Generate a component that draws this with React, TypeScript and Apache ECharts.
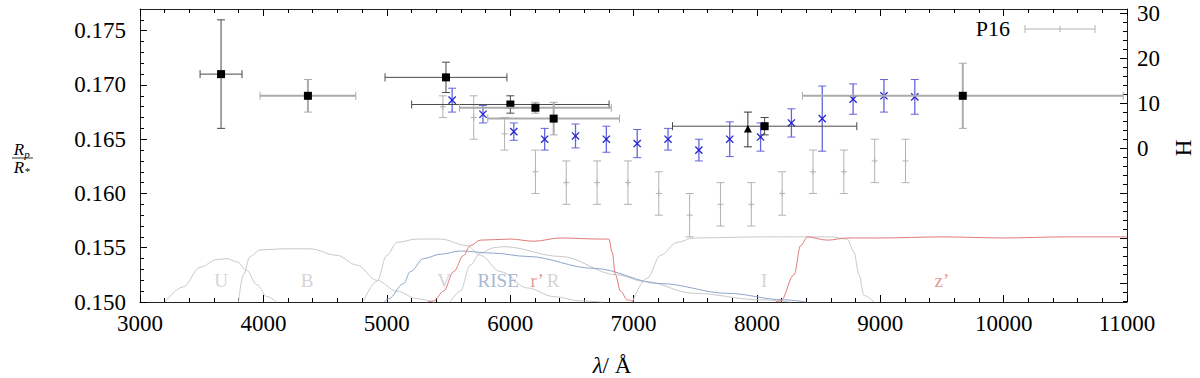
import React, { useEffect, useRef } from "react";
import * as echarts from "echarts";

const SERIF = "Liberation Serif";

// ---------- axis ticks ----------
const xMin = 3000;
const xMax = 11000;
const rpMin = 0.15;
const rpMax = 0.177;
const hMin = -34.2;
const hMax = 30.9;
const rpMajorTicks = [0.15, 0.155, 0.16, 0.165, 0.17, 0.175];
const rpMinorTicks = [
  0.151, 0.152, 0.153, 0.154, 0.156, 0.157, 0.158, 0.159, 0.161, 0.162, 0.163, 0.164,
  0.166, 0.167, 0.168, 0.169, 0.171, 0.172, 0.173, 0.174, 0.176,
];
const hMajorTicks = [-30, -20, -10, 0, 10, 20, 30];
const hLabelValues = [0, 10, 20, 30];
const hMinorTicks = [
  -34, -32, -28, -26, -24, -22, -18, -16, -14, -12, -8, -6, -4, -2, 2, 4, 6, 8, 12, 14, 16,
  18, 22, 24, 26, 28,
];

// ---------- black squares (broadband) ----------
const sqWave = [3657, 4361, 5480, 6002, 6205, 6353, 8063, 9669];
const sqRp = [0.171, 0.169, 0.1707, 0.1682, 0.1679, 0.1669, 0.1662, 0.169];
const sqWaveErr = [170, 388, 494, 800, 615, 534, 747, 1300];
const sqRpErr = [0.005, 0.0015, 0.0014, 0.0008, 0.0005, 0.0015, 0.0008, 0.003];
const sqTone = [0, 1, 0, 0, 1, 1, 0, 1];

// ---------- triangle ----------
const triWave = [7927];
const triRp = [0.1659];
const triRpErr = [0.0016];

// ---------- blue crosses ----------
const blueWave = [5530, 5780, 6030, 6280, 6530, 6780, 7030, 7280, 7530, 7780, 8030, 8280, 8530, 8780, 9030, 9280];
const blueRp = [0.1686, 0.1673, 0.1657, 0.165, 0.1653, 0.165, 0.1646, 0.165, 0.164, 0.165, 0.1652, 0.1665, 0.1669, 0.1687, 0.169, 0.1689];
const blueRpErr = [0.0011, 0.0008, 0.0008, 0.001, 0.0011, 0.0012, 0.0013, 0.001, 0.001, 0.0016, 0.0013, 0.0013, 0.003, 0.0014, 0.0015, 0.0016];

// ---------- P16 (grey) ----------
const p16Wave = [5455, 5705, 5955, 6205, 6455, 6705, 6955, 7205, 7455, 7705, 7955, 8205, 8455, 8705, 8955, 9205];
const p16Rp = [0.168, 0.167, 0.1655, 0.162, 0.161, 0.161, 0.161, 0.16, 0.158, 0.159, 0.159, 0.16, 0.162, 0.162, 0.163, 0.163];
const p16RpErr = [0.001, 0.002, 0.0015, 0.002, 0.002, 0.002, 0.002, 0.002, 0.002, 0.002, 0.002, 0.002, 0.002, 0.002, 0.002, 0.002];

// ---------- filter curves [wavelength, scaled response] ----------
const filterU = [[3203, 0.15], [3351, 0.1514], [3487, 0.1532], [3622, 0.1539], [3703, 0.154], [3785, 0.1537], [3866, 0.1529], [3947, 0.1516], [4028, 0.1505], [4109, 0.15]];
const filterB = [[3798, 0.15], [3838, 0.1525], [3892, 0.1542], [3974, 0.1548], [4163, 0.1549], [4379, 0.1549], [4596, 0.1543], [4758, 0.1534], [4920, 0.152], [5083, 0.151], [5245, 0.1503], [5380, 0.15]];
const filterV = [[4812, 0.1501], [4920, 0.1519], [5001, 0.1543], [5083, 0.1555], [5245, 0.1558], [5434, 0.1558], [5651, 0.1552], [5759, 0.1543], [5921, 0.1528], [6138, 0.1513], [6353, 0.1505], [6570, 0.1501], [6750, 0.15]];
const filterR = [[5515, 0.15], [5596, 0.151], [5677, 0.1534], [5759, 0.1545], [5867, 0.155], [5948, 0.1551], [6408, 0.1542], [6868, 0.1525], [7084, 0.1519], [7489, 0.1508], [8031, 0.1502], [8274, 0.15]];
const filterRISE = [[4980, 0.15], [5015, 0.1503], [5137, 0.1517], [5191, 0.1528], [5299, 0.154], [5434, 0.1544], [5600, 0.1547], [5867, 0.1545], [6138, 0.1542], [6678, 0.1531], [7219, 0.1517], [7760, 0.1508], [8220, 0.1502], [8400, 0.15]];
const filterRprime = [[5330, 0.15], [5380, 0.1501], [5461, 0.151], [5542, 0.1528], [5623, 0.1543], [5677, 0.1552], [5759, 0.1557], [6002, 0.1558], [6191, 0.1556], [6408, 0.1559], [6732, 0.1558], [6800, 0.1558], [6827, 0.1546], [6854, 0.1525], [6895, 0.151], [6949, 0.1502], [7003, 0.15]];
const filterI = [[6990, 0.15], [7111, 0.1522], [7219, 0.1543], [7354, 0.1555], [7489, 0.1559], [8031, 0.156], [8600, 0.156], [8733, 0.1558], [8787, 0.1546], [8828, 0.1525], [8868, 0.1506], [8950, 0.15]];
const filterZprime = [[8150, 0.15], [8193, 0.1501], [8301, 0.1525], [8355, 0.1552], [8409, 0.156], [8571, 0.1557], [8733, 0.1559], [9004, 0.1559], [9500, 0.156], [10000, 0.1559], [10500, 0.156], [11000, 0.156]];

const filterNames = ["U", "B", "V", "RISE", "r\u2019", "R", "I", "z\u2019"];
const filterLabelWave = [3657, 4354, 5465, 5903, 6219, 6349, 8060, 9500];
const filterLabelRp = [0.152, 0.152, 0.152, 0.152, 0.152, 0.152, 0.152, 0.152];

const GREY_F = "#c9c9c9";
const BLUE_F = "#8ea6c9";
const RED_F = "#e07a7a";
const filterLabelColors = [GREY_F, GREY_F, GREY_F, BLUE_F, RED_F, GREY_F, GREY_F, RED_F];

function ln(x1: number, y1: number, x2: number, y2: number, color: string, w: number) {
  return { type: "line", shape: { x1, y1, x2, y2 }, style: { stroke: color, lineWidth: w } };
}

function makeRender(kind: string) {
  return (params: any, api: any) => {
    const x = api.value(0);
    const y = api.value(1);
    const xe = api.value(2);
    const ye = api.value(3);
    const tone = api.value(4);
    const c = api.coord([x, y]);
    let barColor = "#444";
    let barW = 1;
    const cap = 4;
    if (kind === "square") {
      barColor = tone === 1 ? "#ababab" : "#4a4a4a";
      barW = tone === 1 ? 2 : 1;
    } else if (kind === "triangle") {
      barColor = "#333";
    } else if (kind === "blue") {
      barColor = "#6464dc";
      barW = 1.3;
    } else if (kind === "p16") {
      barColor = "#b3b3b3";
      barW = 1;
    }
    const kids: any[] = [];
    if (ye > 0) {
      const t = api.coord([x, y + ye])[1];
      const b = api.coord([x, y - ye])[1];
      kids.push(ln(c[0], t, c[0], b, barColor, barW));
      kids.push(ln(c[0] - cap, t, c[0] + cap, t, barColor, 1));
      kids.push(ln(c[0] - cap, b, c[0] + cap, b, barColor, 1));
    }
    if (xe > 0) {
      const l = api.coord([x - xe, y])[0];
      const r = api.coord([x + xe, y])[0];
      kids.push(ln(l, c[1], r, c[1], barColor, barW));
      kids.push(ln(l, c[1] - cap, l, c[1] + cap, barColor, 1));
      kids.push(ln(r, c[1] - cap, r, c[1] + cap, barColor, 1));
    }
    if (kind === "square") {
      kids.push({ type: "rect", shape: { x: c[0] - 4, y: c[1] - 4, width: 8, height: 8 }, style: { fill: "#000" } });
    } else if (kind === "triangle") {
      kids.push({ type: "polygon", shape: { points: [[c[0], c[1] - 4.5], [c[0] - 4, c[1] + 3], [c[0] + 4, c[1] + 3]] }, style: { fill: "#000" } });
    } else if (kind === "blue") {
      const s = 3.6;
      kids.push(ln(c[0] - s, c[1] - s, c[0] + s, c[1] + s, "#2424cf", 1.3));
      kids.push(ln(c[0] - s, c[1] + s, c[0] + s, c[1] - s, "#2424cf", 1.3));
    } else if (kind === "p16") {
      const s = 3;
      kids.push(ln(c[0] - s, c[1], c[0] + s, c[1], "#b3b3b3", 1));
      kids.push(ln(c[0], c[1] - s, c[0], c[1] + s, "#b3b3b3", 1));
    }
    return { type: "group", children: kids };
  };
}

function buildOption() {
  const sqData = sqWave.map((w, i) => [w, sqRp[i], sqWaveErr[i], sqRpErr[i], sqTone[i]]);
  const triData = triWave.map((w, i) => [w, triRp[i], 0, triRpErr[i], 0]);
  const blueData = blueWave.map((w, i) => [w, blueRp[i], 0, blueRpErr[i], 0]);
  const p16Data = p16Wave.map((w, i) => [w, p16Rp[i], 0, p16RpErr[i], 0]);

  const filterLine = (name: string, data: number[][], color: string) => ({
    name,
    type: "line",
    data,
    showSymbol: false,
    smooth: 0.35,
    smoothMonotone: "x",
    lineStyle: { color, width: 1 },
    itemStyle: { color },
    z: 1,
    silent: true,
  });

  const tickStyle = { color: "#000", width: 1 };
  const axisLineStyle = { color: "#222", width: 1 };

  return {
    animation: false,
    backgroundColor: "#fff",
    textStyle: { fontFamily: SERIF },
    grid: { left: 140, right: 73, top: 9, bottom: 76, containLabel: false },
    xAxis: [
      {
        type: "value",
        min: xMin,
        max: xMax,
        interval: 1000,
        position: "bottom",
        axisLine: { show: true, onZero: false, lineStyle: axisLineStyle },
        axisTick: { show: true, inside: true, length: 7, lineStyle: tickStyle },
        minorTick: { show: true, splitNumber: 5, length: 4, lineStyle: tickStyle },
        axisLabel: { show: true, formatter: (v: number) => String(v), fontFamily: SERIF, fontSize: 23, color: "#000", margin: 10 },
        splitLine: { show: false },
      },
      {
        type: "value",
        min: xMin,
        max: xMax,
        interval: 1000,
        position: "top",
        axisLine: { show: true, onZero: false, lineStyle: axisLineStyle },
        axisTick: { show: true, inside: true, length: 7, lineStyle: tickStyle },
        minorTick: { show: true, splitNumber: 5, length: 4, lineStyle: tickStyle },
        axisLabel: { show: false },
        splitLine: { show: false },
      },
    ],
    yAxis: [
      {
        type: "value",
        min: rpMin,
        max: rpMax,
        position: "left",
        axisLine: { show: true, onZero: false, lineStyle: axisLineStyle },
        axisTick: { show: true, inside: true, length: 7, lineStyle: tickStyle, customValues: rpMajorTicks },
        axisLabel: {
          show: true,
          customValues: rpMajorTicks,
          formatter: (v: number) => v.toFixed(3),
          fontFamily: SERIF,
          fontSize: 23,
          color: "#000",
          margin: 14,
        },
        splitLine: { show: false },
      },
      {
        type: "value",
        min: rpMin,
        max: rpMax,
        position: "left",
        axisLine: { show: false },
        axisTick: { show: true, inside: true, length: 4, lineStyle: tickStyle, customValues: rpMinorTicks },
        axisLabel: { show: false },
        splitLine: { show: false },
      },
      {
        type: "value",
        min: hMin,
        max: hMax,
        position: "right",
        axisLine: { show: true, onZero: false, lineStyle: axisLineStyle },
        axisTick: { show: true, inside: true, length: 7, lineStyle: tickStyle, customValues: hMajorTicks },
        axisLabel: {
          show: true,
          customValues: hLabelValues,
          fontFamily: SERIF,
          fontSize: 23,
          color: "#000",
          margin: 10,
        },
        splitLine: { show: false },
      },
      {
        type: "value",
        min: hMin,
        max: hMax,
        position: "right",
        axisLine: { show: false },
        axisTick: { show: true, inside: true, length: 4, lineStyle: tickStyle, customValues: hMinorTicks },
        axisLabel: { show: false },
        splitLine: { show: false },
      },
    ],
    series: [
      filterLine("U", filterU, GREY_F),
      filterLine("B", filterB, GREY_F),
      filterLine("V", filterV, GREY_F),
      filterLine("R", filterR, GREY_F),
      filterLine("I", filterI, GREY_F),
      filterLine("RISE", filterRISE, BLUE_F),
      filterLine("r'", filterRprime, RED_F),
      filterLine("z'", filterZprime, RED_F),
      {
        name: "filter labels",
        type: "scatter",
        symbolSize: 1,
        itemStyle: { color: "rgba(255,255,255,0)" },
        silent: true,
        z: 2,
        data: filterNames.map((n, i) => ({
          value: [filterLabelWave[i], filterLabelRp[i]],
          label: {
            show: true,
            position: "inside",
            formatter: n,
            color: filterLabelColors[i],
            fontFamily: SERIF,
            fontSize: 19,
          },
        })),
      },
      { name: "P16", type: "custom", renderItem: makeRender("p16"), data: p16Data, encode: { x: 0, y: 1 }, z: 3 },
      { name: "blue", type: "custom", renderItem: makeRender("blue"), data: blueData, encode: { x: 0, y: 1 }, z: 4 },
      { name: "squares", type: "custom", renderItem: makeRender("square"), data: sqData, encode: { x: 0, y: 1 }, z: 5 },
      { name: "triangle", type: "custom", renderItem: makeRender("triangle"), data: triData, encode: { x: 0, y: 1 }, z: 5 },
    ],
    graphic: [
      // legend
      {
        type: "text",
        x: 1010,
        y: 28,
        style: { text: "P16", fontFamily: SERIF, fontSize: 22, fill: "#000", align: "right", verticalAlign: "middle" },
      },
      { type: "line", shape: { x1: 1025, y1: 29, x2: 1095, y2: 29 }, style: { stroke: "#b3b3b3", lineWidth: 1 } },
      { type: "line", shape: { x1: 1025, y1: 25, x2: 1025, y2: 33 }, style: { stroke: "#b3b3b3", lineWidth: 1 } },
      { type: "line", shape: { x1: 1095, y1: 25, x2: 1095, y2: 33 }, style: { stroke: "#b3b3b3", lineWidth: 1 } },
      { type: "line", shape: { x1: 1060, y1: 26, x2: 1060, y2: 32 }, style: { stroke: "#b3b3b3", lineWidth: 1 } },
      // x axis name
      {
        type: "text",
        x: 612,
        y: 365,
        style: {
          text: "{i|\u03bb}/ \u00c5",
          fontFamily: SERIF,
          fontSize: 23,
          fill: "#000",
          align: "center",
          verticalAlign: "middle",
          rich: { i: { fontStyle: "italic", fontFamily: SERIF, fontSize: 23, fill: "#000" } },
        },
      },
      // right axis name
      {
        type: "text",
        x: 1183,
        y: 148,
        rotation: Math.PI / 2,
        style: { text: "H", fontFamily: SERIF, fontSize: 23, fill: "#000", align: "center", verticalAlign: "middle" },
      },
      // left axis name: Rp / R*
      { type: "text", x: 19, y: 149, style: { text: "R", fontFamily: SERIF, fontStyle: "italic", fontSize: 17, fill: "#000", align: "center", verticalAlign: "middle" } },
      { type: "text", x: 27, y: 154, style: { text: "p", fontFamily: SERIF, fontStyle: "italic", fontSize: 11, fill: "#000", align: "center", verticalAlign: "middle" } },
      { type: "line", shape: { x1: 12, y1: 158, x2: 33, y2: 158 }, style: { stroke: "#000", lineWidth: 0.8 } },
      { type: "text", x: 19, y: 167, style: { text: "R", fontFamily: SERIF, fontStyle: "italic", fontSize: 17, fill: "#000", align: "center", verticalAlign: "middle" } },
      { type: "text", x: 27, y: 171, style: { text: "*", fontFamily: SERIF, fontStyle: "italic", fontSize: 11, fill: "#000", align: "center", verticalAlign: "middle" } },
    ],
  };
}

export default function App() {
  const ref = useRef<HTMLDivElement>(null);
  useEffect(() => {
    if (!ref.current) return;
    const chart = echarts.init(ref.current, null, { renderer: "svg" });
    chart.setOption(buildOption() as any);
    return () => chart.dispose();
  }, []);
  return <div ref={ref} style={{ position: "fixed", left: 0, top: 0, width: 1200, height: 378, background: "#fff" }} />;
}
